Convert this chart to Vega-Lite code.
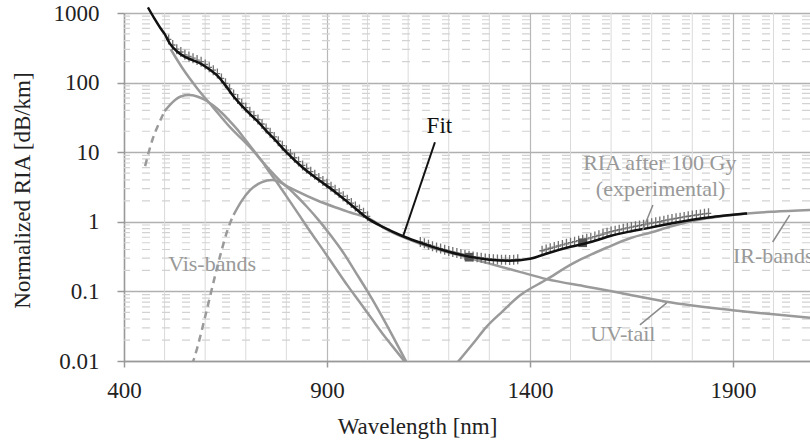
{
 "$schema": "https://vega.github.io/schema/vega-lite/v6.json",
 "width": 686,
 "height": 348,
 "autosize": {"type": "none"},
 "padding": {"left": 124, "top": 13, "right": 0, "bottom": 82},
 "background": "white",
 "config": {"font": "Liberation Serif", "view": {"stroke": null}, "text": {"font": "Liberation Serif"}, "axis": {"labelFont": "Liberation Serif", "titleFont": "Liberation Serif"}},
 "datasets": {
  "vminor": [{"w":500},{"w":600},{"w":700},{"w":800},{"w":1000},{"w":1100},{"w":1200},{"w":1300},{"w":1500},{"w":1600},{"w":1700},{"w":1800},{"w":2000}],
  "hminor": [{"v":0.02},{"v":0.03},{"v":0.04},{"v":0.05},{"v":0.06},{"v":0.07},{"v":0.08},{"v":0.09},
             {"v":0.2},{"v":0.3},{"v":0.4},{"v":0.5},{"v":0.6},{"v":0.7},{"v":0.8},{"v":0.9},
             {"v":2},{"v":3},{"v":4},{"v":5},{"v":6},{"v":7},{"v":8},{"v":9},
             {"v":20},{"v":30},{"v":40},{"v":50},{"v":60},{"v":70},{"v":80},{"v":90},
             {"v":200},{"v":300},{"v":400},{"v":500},{"v":600},{"v":700},{"v":800},{"v":900}],
  "fit": [{"w":459,"v":1202},{"w":475,"v":832},{"w":490,"v":603},{"w":500,"v":501},{"w":513,"v":363},{"w":530,"v":282},{"w":550,"v":234},{"w":570,"v":209},{"w":590,"v":186},{"w":610,"v":155},{"w":630,"v":126},{"w":650,"v":91.2},{"w":670,"v":63.1},{"w":690,"v":46.8},{"w":710,"v":35.5},{"w":730,"v":27.5},{"w":750,"v":20.4},{"w":770,"v":15.5},{"w":800,"v":10.0},{"w":840,"v":6.03},{"w":880,"v":3.98},{"w":920,"v":2.69},{"w":960,"v":1.74},{"w":1000,"v":1.12},{"w":1040,"v":0.832},{"w":1080,"v":0.646},{"w":1120,"v":0.525},{"w":1160,"v":0.437},{"w":1200,"v":0.372},{"w":1250,"v":0.316},{"w":1300,"v":0.285},{"w":1350,"v":0.275},{"w":1400,"v":0.295},{"w":1450,"v":0.363},{"w":1500,"v":0.437},{"w":1550,"v":0.513},{"w":1600,"v":0.631},{"w":1650,"v":0.733},{"w":1700,"v":0.832},{"w":1750,"v":0.955},{"w":1800,"v":1.072},{"w":1850,"v":1.175},{"w":1900,"v":1.259},{"w":1935,"v":1.318}],
  "exp": [{"w":510,"v":417},{"w":520,"v":347},{"w":530,"v":302},{"w":540,"v":275},{"w":550,"v":251},{"w":560,"v":237},{"w":570,"v":224},{"w":580,"v":211},{"w":590,"v":200},{"w":600,"v":182},{"w":610,"v":166},{"w":620,"v":151},{"w":630,"v":135},{"w":640,"v":115},{"w":650,"v":97.7},{"w":660,"v":81.3},{"w":670,"v":67.6},{"w":680,"v":58.2},{"w":690,"v":50.1},{"w":700,"v":43.7},{"w":710,"v":38.0},{"w":720,"v":33.5},{"w":730,"v":29.5},{"w":740,"v":25.4},{"w":750,"v":21.9},{"w":760,"v":19.1},{"w":770,"v":16.6},{"w":780,"v":14.4},{"w":790,"v":12.4},{"w":800,"v":10.7},{"w":810,"v":9.44},{"w":820,"v":8.32},{"w":830,"v":7.33},{"w":840,"v":6.46},{"w":850,"v":5.82},{"w":860,"v":5.25},{"w":870,"v":4.73},{"w":880,"v":4.27},{"w":890,"v":3.87},{"w":900,"v":3.51},{"w":910,"v":3.18},{"w":920,"v":2.88},{"w":930,"v":2.59},{"w":940,"v":2.32},{"w":950,"v":2.08},{"w":960,"v":1.86},{"w":970,"v":1.66},{"w":980,"v":1.50},{"w":990,"v":1.35},{"w":1000,"v":1.20},
          {"w":1130,"v":0.513},{"w":1140,"v":0.490},{"w":1150,"v":0.468},{"w":1160,"v":0.447},{"w":1170,"v":0.429},{"w":1180,"v":0.412},{"w":1190,"v":0.396},{"w":1200,"v":0.380},{"w":1210,"v":0.368},{"w":1220,"v":0.356},{"w":1230,"v":0.345},{"w":1240,"v":0.334},{"w":1250,"v":0.324},{"w":1260,"v":0.317},{"w":1270,"v":0.310},{"w":1280,"v":0.304},{"w":1290,"v":0.298},{"w":1300,"v":0.292},{"w":1310,"v":0.290},{"w":1320,"v":0.288},{"w":1330,"v":0.286},{"w":1340,"v":0.284},{"w":1350,"v":0.282},{"w":1360,"v":0.286},{"w":1370,"v":0.290},
          {"w":1430,"v":0.384},{"w":1440,"v":0.400},{"w":1450,"v":0.417},{"w":1460,"v":0.433},{"w":1470,"v":0.449},{"w":1480,"v":0.466},{"w":1490,"v":0.483},{"w":1500,"v":0.501},{"w":1510,"v":0.518},{"w":1520,"v":0.535},{"w":1530,"v":0.552},{"w":1540,"v":0.570},{"w":1550,"v":0.589},{"w":1560,"v":0.614},{"w":1570,"v":0.640},{"w":1580,"v":0.667},{"w":1590,"v":0.695},{"w":1600,"v":0.724},{"w":1610,"v":0.746},{"w":1620,"v":0.769},{"w":1630,"v":0.793},{"w":1640,"v":0.817},{"w":1650,"v":0.841},{"w":1660,"v":0.863},{"w":1670,"v":0.885},{"w":1680,"v":0.908},{"w":1690,"v":0.931},{"w":1700,"v":0.955},{"w":1710,"v":0.982},{"w":1720,"v":1.009},{"w":1730,"v":1.038},{"w":1740,"v":1.067},{"w":1750,"v":1.096},{"w":1760,"v":1.122},{"w":1770,"v":1.148},{"w":1780,"v":1.175},{"w":1790,"v":1.202},{"w":1800,"v":1.230},{"w":1810,"v":1.253},{"w":1820,"v":1.276},{"w":1830,"v":1.300},{"w":1840,"v":1.324}],
  "sq": [{"w":1250,"v":0.31},{"w":1530,"v":0.50}],
  "uv": [{"w":515,"v":302},{"w":545,"v":158},{"w":580,"v":83.2},{"w":620,"v":43.7},{"w":661,"v":22.9},{"w":690,"v":15.5},{"w":717,"v":10.7},{"w":740,"v":7.41},{"w":760,"v":5.50},{"w":791,"v":3.59},{"w":830,"v":2.69},{"w":875,"v":2.04},{"w":920,"v":1.62},{"w":956,"v":1.37},{"w":1005,"v":1.10},{"w":1050,"v":0.759},{"w":1100,"v":0.562},{"w":1150,"v":0.437},{"w":1200,"v":0.363},{"w":1250,"v":0.302},{"w":1300,"v":0.251},{"w":1375,"v":0.191},{"w":1441,"v":0.150},{"w":1540,"v":0.117},{"w":1621,"v":0.0955},{"w":1736,"v":0.0708},{"w":1899,"v":0.0537},{"w":2000,"v":0.0468},{"w":2090,"v":0.0417}],
  "ir": [{"w":1220,"v":0.0093},{"w":1260,"v":0.0178},{"w":1293,"v":0.0309},{"w":1330,"v":0.0501},{"w":1375,"v":0.0871},{"w":1441,"v":0.148},{"w":1505,"v":0.251},{"w":1540,"v":0.316},{"w":1590,"v":0.427},{"w":1650,"v":0.589},{"w":1700,"v":0.708},{"w":1751,"v":0.871},{"w":1835,"v":1.122},{"w":1917,"v":1.288},{"w":2000,"v":1.396},{"w":2090,"v":1.479}],
  "b1dash": [{"w":452,"v":6.31},{"w":470,"v":15.1},{"w":485,"v":25.1},{"w":500,"v":38.9}],
  "b1": [{"w":500,"v":38.9},{"w":520,"v":52.5},{"w":540,"v":63.1},{"w":560,"v":66.1},{"w":580,"v":63.1},{"w":600,"v":56.2},{"w":620,"v":46.8},{"w":640,"v":37.2},{"w":660,"v":28.2},{"w":680,"v":20.9},{"w":700,"v":14.8},{"w":720,"v":10.5},{"w":740,"v":7.41},{"w":760,"v":5.01},{"w":780,"v":3.47},{"w":800,"v":2.34},{"w":830,"v":1.29},{"w":860,"v":0.708},{"w":890,"v":0.398},{"w":920,"v":0.221},{"w":950,"v":0.123},{"w":980,"v":0.0708},{"w":1010,"v":0.0407},{"w":1040,"v":0.0234},{"w":1070,"v":0.0141},{"w":1100,"v":0.0085}],
  "b2dash": [{"w":568,"v":0.0089},{"w":580,"v":0.0151},{"w":595,"v":0.0331},{"w":610,"v":0.0759},{"w":625,"v":0.174},{"w":640,"v":0.380},{"w":655,"v":0.759},{"w":670,"v":1.26}],
  "b2": [{"w":670,"v":1.26},{"w":690,"v":2.0},{"w":710,"v":2.82},{"w":740,"v":3.72},{"w":765,"v":3.98},{"w":790,"v":3.55},{"w":820,"v":2.51},{"w":850,"v":1.66},{"w":880,"v":1.05},{"w":910,"v":0.631},{"w":940,"v":0.363},{"w":970,"v":0.191},{"w":1000,"v":0.100},{"w":1030,"v":0.0501},{"w":1060,"v":0.024},{"w":1090,"v":0.0112},{"w":1105,"v":0.0076}],
  "fitleader": [{"w":1166,"v":13.9},{"w":1087,"v":0.605}],
  "leaders": [{"id":"exp","w":1703,"v":1.74},{"id":"exp","w":1678,"v":0.762},{"id":"ir","w":1998,"v":0.513},{"id":"ir","w":2040,"v":1.25},{"id":"uv","w":1671,"v":0.033},{"id":"uv","w":1737,"v":0.0684}],
  "fitlabel": [{"w":1177,"v":23.5,"t":"Fit"}],
  "graylabels": [{"w":1720,"v":6.97,"t":"RIA after 100 Gy"},{"w":1722,"v":2.95,"t":"(experimental)"},{"w":617,"v":0.248,"t":"Vis-bands"},{"w":1629,"v":0.0245,"t":"UV-tail"}],
  "irlabel": [{"w":1900,"v":0.324,"t":"IR-bands"}]
 },
 "layer": [
  {"data": {"name": "vminor"},
   "mark": {"type": "rule", "color": "#dadada", "strokeWidth": 1},
   "encoding": {"x": {"field": "w", "type": "quantitative", "scale": {"domain": [400, 2090]}}}},
  {"data": {"name": "hminor"},
   "mark": {"type": "rule", "color": "#d2d2d2", "strokeWidth": 1.2, "strokeDash": [8, 12]},
   "encoding": {"y": {"field": "v", "type": "quantitative", "scale": {"type": "log", "domain": [0.01, 1000]}}}},
  {"encoding": {
    "x": {"field": "w", "type": "quantitative", "scale": {"domain": [400, 2090]},
       "axis": {"title": "Wavelength [nm]", "values": [400, 900, 1400, 1900], "format": "d", "grid": true, "gridColor": "#b8b8b8", "gridWidth": 1.2,
         "domainColor": "#999", "domainWidth": 1.5, "tickColor": "#999", "tickWidth": 1.5, "tickSize": 6, "labelPadding": 12,
         "labelFontSize": 23, "labelColor": "#222", "labelFont": "Liberation Serif", "labelFlush": false, "labelOverlap": false,
         "titleFont": "Liberation Serif", "titleFontSize": 23, "titleFontWeight": "normal", "titleColor": "#222",
         "titleX": 293, "titleY": 72, "titleAlign": "center", "titleBaseline": "alphabetic"}},
    "y": {"field": "v", "type": "quantitative", "scale": {"type": "log", "domain": [0.01, 1000]},
       "axis": {"title": "Normalized RIA [dB/km]", "values": [0.01, 0.1, 1, 10, 100, 1000], "format": "~g", "grid": true, "gridColor": "#b0b0b0", "gridWidth": 1.5,
         "domainColor": "#999", "domainWidth": 1.5, "tickColor": "#999", "tickWidth": 1.5, "tickSize": 7, "labelPadding": 18,
         "labelFontSize": 23, "labelColor": "#222", "labelFont": "Liberation Serif", "labelFlush": false, "labelOverlap": false,
         "titleFont": "Liberation Serif", "titleFontSize": 23, "titleFontWeight": "normal", "titleColor": "#222",
         "titleX": -102, "titleY": 177, "titleAngle": -90, "titleAlign": "center", "titleBaseline": "middle"}}
   },
   "layer": [
    {"data": {"name": "b1dash"},
     "mark": {"type": "line", "color": "#9a9a9a", "strokeWidth": 2.5, "strokeDash": [7, 5], "interpolate": "monotone", "clip": true}},
    {"data": {"name": "b1"},
     "mark": {"type": "line", "color": "#9a9a9a", "strokeWidth": 2.5, "interpolate": "monotone", "clip": true}},
    {"data": {"name": "b2dash"},
     "mark": {"type": "line", "color": "#9a9a9a", "strokeWidth": 2.5, "strokeDash": [7, 5], "interpolate": "monotone", "clip": true}},
    {"data": {"name": "b2"},
     "mark": {"type": "line", "color": "#9a9a9a", "strokeWidth": 2.5, "interpolate": "monotone", "clip": true}},
    {"data": {"name": "uv"},
     "mark": {"type": "line", "color": "#9a9a9a", "strokeWidth": 2.5, "interpolate": "monotone", "clip": true}},
    {"data": {"name": "ir"},
     "mark": {"type": "line", "color": "#9a9a9a", "strokeWidth": 2.5, "interpolate": "monotone", "clip": true}},
    {"data": {"name": "exp"},
     "mark": {"type": "point", "shape": "M-0.55,0L0.55,0M0,-1L0,1", "filled": false, "color": "#6a6a6a", "strokeWidth": 1.3, "size": 100, "opacity": 0.95, "clip": true}},
    {"data": {"name": "sq"},
     "mark": {"type": "point", "shape": "square", "filled": true, "color": "#555", "size": 75, "opacity": 1}},
    {"data": {"name": "fit"},
     "mark": {"type": "line", "color": "#111", "strokeWidth": 2.5, "interpolate": "monotone", "clip": false}},
    {"data": {"name": "fitleader"},
     "mark": {"type": "line", "color": "#111", "strokeWidth": 2}},
    {"data": {"name": "leaders"},
     "mark": {"type": "line", "color": "#8a8a8a", "strokeWidth": 1.5, "clip": true},
     "encoding": {"detail": {"field": "id", "type": "nominal"}}},
    {"data": {"name": "fitlabel"},
     "mark": {"type": "text", "align": "center", "baseline": "middle", "fontSize": 23, "color": "#111", "font": "Liberation Serif"},
     "encoding": {"text": {"field": "t"}}},
    {"data": {"name": "graylabels"},
     "mark": {"type": "text", "align": "center", "baseline": "middle", "fontSize": 22, "color": "#999", "font": "Liberation Serif"},
     "encoding": {"text": {"field": "t"}}},
    {"data": {"name": "irlabel"},
     "mark": {"type": "text", "align": "left", "baseline": "middle", "fontSize": 22, "color": "#999", "font": "Liberation Serif"},
     "encoding": {"text": {"field": "t"}}}
   ]}
 ]
}
